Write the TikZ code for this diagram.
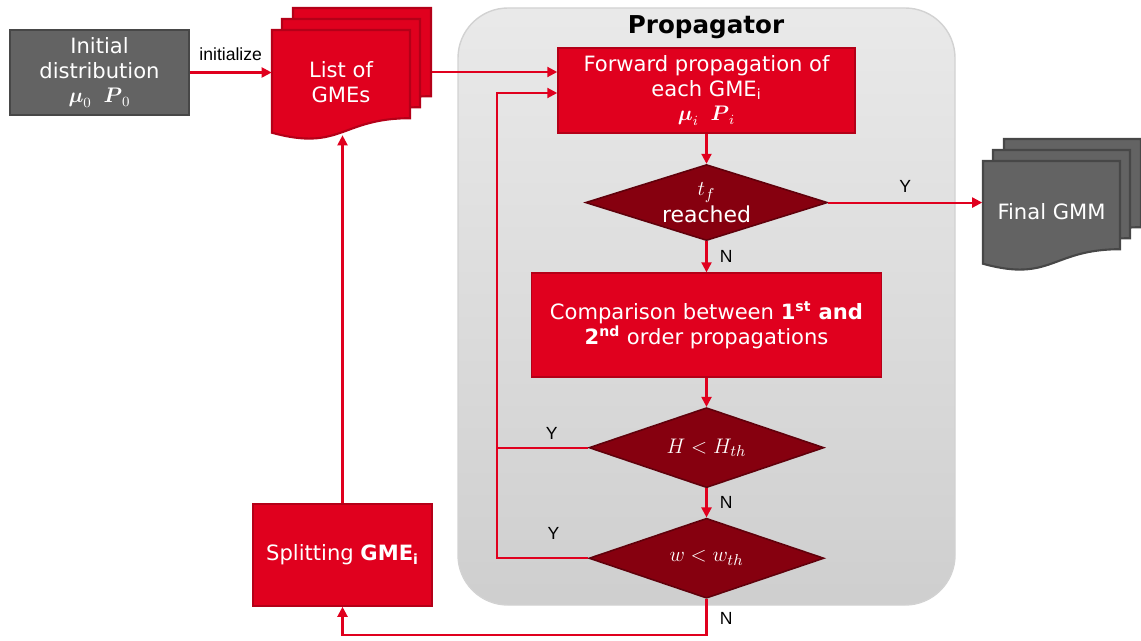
\documentclass[tikz,border=0pt]{standalone}
\usepackage{amsmath,amssymb}
\usepackage{fontspec}
\setmainfont{DejaVu Sans}
\newfontfamily\lblfont{Liberation Sans}
\usepackage{xcolor}
\usepackage{tikz}
\usetikzlibrary{arrows.meta,positioning,shapes.geometric}
\definecolor{gmred}{HTML}{E0001E}
\definecolor{gmredline}{HTML}{B40018}
\definecolor{gmdark}{HTML}{86000F}
\definecolor{gmdarkline}{HTML}{60000B}
\definecolor{gmgrey}{HTML}{636363}
\definecolor{gmgreyline}{HTML}{474747}
\newcommand{\GMEi}{GME\textsubscript{i}}
% one page of a document stack: x, y (top left), width, height, style
\newcommand{\docpage}[5]{%
  \draw[#5] (#1,#2) -- ({#1+#3},#2) -- ({#1+#3},{#2+0.802*#4})
    .. controls ({#1+0.5*#3},{#2+0.802*#4}) and ({#1+0.5*#3},{#2+1.107*#4}) .. (#1,{#2+0.934*#4}) -- cycle;}

\begin{document}
\begin{tikzpicture}[
    x=0.02cm,y=-0.02cm,
    box/.style={draw=gmredline,line width=0.9pt,fill=gmred,text=white,align=center,inner sep=2pt,font=\fontsize{12}{14.2}\selectfont},
    greybox/.style={box,draw=gmgreyline,fill=gmgrey},
    gmpage/.style={draw=gmredline,line width=1.2pt,fill=gmred},
    greypage/.style={draw=gmgreyline,line width=1.2pt,fill=gmgrey},
    doc/.style={text=white,align=center,font=\fontsize{12}{14.2}\selectfont,minimum width=2.76cm,minimum height=2.1cm,inner sep=0pt},
    decision/.style={diamond,aspect=3,inner sep=0pt,draw=gmdarkline,line width=0.9pt,fill=gmdark,text=white,align=center,font=\fontsize{12.5}{15}\selectfont},
    panel/.style={draw=gray!35,line width=0.8pt,rounded corners=1cm,top color=gray!17,bottom color=gray!38},
    line/.style={draw=gmred,line width=1.2pt},
    lbl/.style={font=\lblfont\fontsize{10}{12}\selectfont,text=black,inner sep=1pt},
    >={Triangle[length=2mm,width=2mm]}
  ]
    \useasboundingbox (0,0) rectangle (1141,641);

    % propagator panel
    \draw[panel] (458,8) rectangle (955,605);
    \node[font=\bfseries\fontsize{14}{16}\selectfont] (title) at (706,27) {Propagator};

    \node[greybox,minimum width=3.58cm,minimum height=1.7cm] (init) at (99.5,72.5) {Initial\\distribution\\$\boldsymbol{\mu}_0\;\;\boldsymbol{P}_0$};

    \docpage{293}{8}{138}{110}{gmpage}
    \docpage{282}{19}{138}{110}{gmpage}
    \docpage{272}{30}{138}{110}{gmpage}
    \node[doc] (list) at (341,82.5) {List of\\GMEs};

    \node[box,minimum width=5.94cm,minimum height=1.7cm] (fwd) at (706.5,90.5) {Forward propagation of\\each \GMEi\\$\boldsymbol{\mu}_i\;\;\boldsymbol{P}_i$};
    \node[decision,minimum width=4.84cm,minimum height=1.52cm,below=0.6cm of fwd] (tf) {$t_f$\\reached};
    \node[box,minimum width=7cm,minimum height=2.08cm,below=0.62cm of tf] (cmp) {Comparison between \textbf{1\textsuperscript{st} and}\\\textbf{2\textsuperscript{nd}} order propagations};
    \node[decision,minimum width=4.7cm,minimum height=1.6cm,below=0.58cm of cmp] (H) {$H<H_{th}$};
    \node[decision,minimum width=4.7cm,minimum height=1.6cm,below=0.58cm of H] (w) {$w<w_{th}$};

    \docpage{1004}{139}{137}{110}{greypage}
    \docpage{993}{150}{137}{110}{greypage}
    \docpage{983}{161}{137}{110}{greypage}
    \node[doc] (final) at (1051.5,212) {Final GMM};

    \node[box,minimum width=3.58cm,minimum height=2.04cm] (split) at (342.5,555) {Splitting \textbf{\GMEi}};

    % connectors
    \draw[line,->] (init) -- node[lbl,above=5pt]{initialize} (init -| list.west);
    \coordinate (lout) at ([xshift=0.44cm,yshift=0.21cm]list.east);
    \draw[line,->] (lout) -- (lout -| fwd.west);
    \draw[line,->] (fwd) -- (tf);
    \draw[line,->] (tf.east) -- node[lbl,above=4pt]{Y} (tf.east -| final.west);
    \draw[line,->] (tf) -- node[lbl,right=6pt]{N} (cmp);
    \draw[line,->] (cmp) -- (H);
    \draw[line,->] (H) -- node[lbl,right=6pt]{N} (w);

    \coordinate (lp) at (497,93);
    \coordinate (fin) at ([yshift=-0.05cm]fwd.west);
    \draw[line] (H.west) -- node[lbl,above=3pt,pos=0.4]{Y} (H.west -| lp);
    \draw[line,->] (w.west) -- node[lbl,above=9pt,pos=0.38]{Y} (w.west -| lp) -- (lp |- fin) -- (fin);

    \coordinate (bt) at (497,635);
    \draw[line,->] (w.south) -- node[lbl,right=6pt,pos=0.55]{N} (w.south |- bt) -| (split.south);
    \draw[line,->] (split) -- (split |- list.south);
  \end{tikzpicture}
\end{document}
